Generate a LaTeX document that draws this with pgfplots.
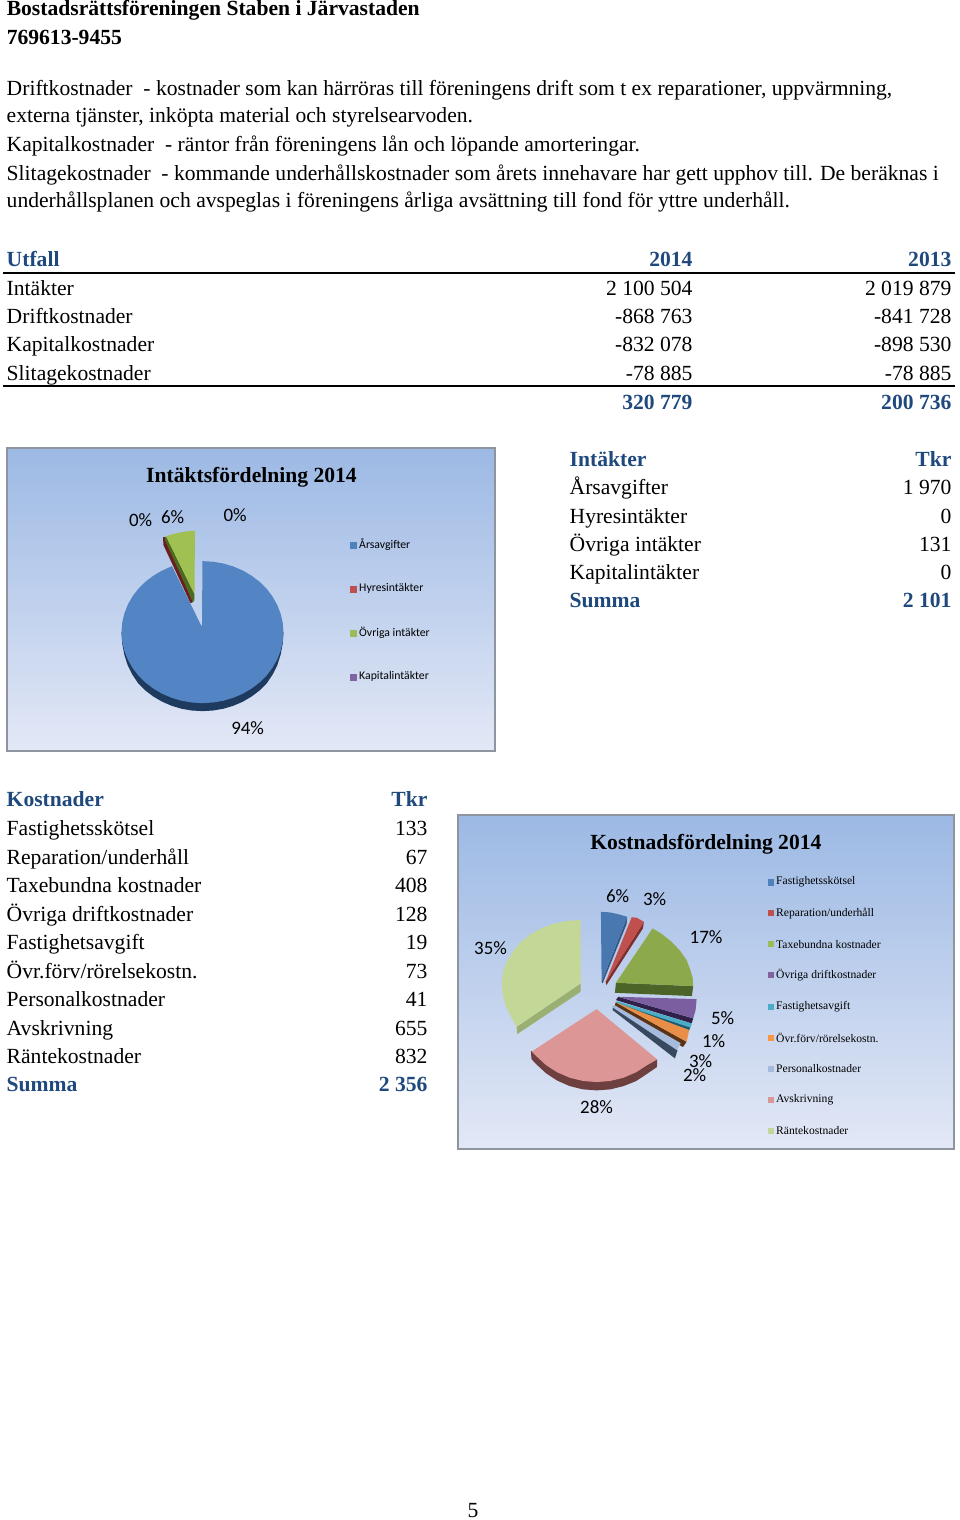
\documentclass[border=0pt]{standalone}
\usepackage{fontspec}
\usepackage{pgfplots}
\pgfplotsset{compat=1.18}
\setmainfont{Liberation Serif}
\newfontfamily\carlito{Carlito}
\definecolor{headblue}{HTML}{1F497D}
\definecolor{framegray}{HTML}{8E959E}
\definecolor{bgtop}{HTML}{9CB9E4}
\definecolor{bgbot}{HTML}{E3E8F6}
\newcommand{\bodyf}{\fontsize{16.2}{19}\selectfont}
\newcommand{\ttlf}{\fontsize{16.2}{19}\selectfont\bfseries}
\newcommand{\pctf}{\fontsize{14.2}{17}\selectfont\carlito}
\newcommand{\tl}[3]{\node[anchor=base west,inner sep=0pt,xshift=-0.4pt,font=\bodyf] at (axis cs:#1,#2) {#3};}
\newcommand{\tr}[3]{\node[anchor=base east,inner sep=0pt,xshift=0.6pt,font=\bodyf] at (axis cs:#1,#2) {#3};}
\newcommand{\hl}[3]{\node[anchor=base west,inner sep=0pt,xshift=-0.4pt,font=\ttlf,text=headblue] at (axis cs:#1,#2) {#3};}
\newcommand{\hr}[3]{\node[anchor=base east,inner sep=0pt,xshift=0.6pt,font=\ttlf,text=headblue] at (axis cs:#1,#2) {#3};}
\newcommand{\pct}[3]{\node[anchor=center,inner sep=0pt,xshift=0.5pt,yshift=-0.5pt,font=\pctf] at (axis cs:#1,#2) {#3};}
\newcommand{\lgA}[3]{\addplot[only marks,mark=square*,mark size=2.25pt,color=#3,mark options={draw=none}] coordinates {(353,#1)};
  \node[anchor=west,inner sep=0pt,font=\fontsize{8.8}{10}\selectfont\carlito] at (axis cs:359,#1) {#2};}
\newcommand{\lgB}[3]{\addplot[only marks,mark=square*,mark size=2.0pt,color=#3,mark options={draw=none}] coordinates {(771,#1)};
  \node[anchor=west,inner sep=0pt,font=\fontsize{8.7}{10}\selectfont] at (axis cs:776,#1) {#2};}
\begin{document}
\begin{tikzpicture}
\begin{axis}[
  width=720pt, height=1140pt, scale only axis, hide axis, clip=false,
  xmin=0, xmax=960, ymin=0, ymax=1520, y dir=reverse,
]
% keep the full page in the bounding box
\path (axis cs:0,0) (axis cs:960,1520);
% page text
\node[anchor=base west,inner sep=0pt,font=\ttlf] at (axis cs:6.5,15) {Bostadsrättsföreningen Staben i Järvastaden};
\node[anchor=base west,inner sep=0pt,font=\ttlf] at (axis cs:6.5,44) {769613-9455};
\tl{7}{95}{Driftkostnader~ - kostnader som kan härröras till föreningens drift som t ex reparationer, uppvärmning,}
\tl{7}{122.5}{externa tjänster, inköpta material och styrelsearvoden.}
\tl{7}{151.5}{Kapitalkostnader~ - räntor från föreningens lån och löpande amorteringar.}
\tl{7}{180}{Slitagekostnader~ - kommande underhållskostnader som årets innehavare har gett upphov till. De beräknas i}
\tl{7}{207.5}{underhållsplanen och avspeglas i föreningens årliga avsättning till fond för yttre underhåll.}
% result table
\hl{7}{266}{Utfall}\hr{692}{266}{2014}\hr{951}{266}{2013}
\tl{7}{295}{Intäkter}\tr{692}{295}{2 100 504}\tr{951}{295}{2 019 879}
\tl{7}{323}{Driftkostnader}\tr{692}{323}{-868 763}\tr{951}{323}{-841 728}
\tl{7}{351}{Kapitalkostnader}\tr{692}{351}{-832 078}\tr{951}{351}{-898 530}
\tl{7}{380}{Slitagekostnader}\tr{692}{380}{-78 885}\tr{951}{380}{-78 885}
\hr{692}{409}{320 779}\hr{951}{409}{200 736}
\addplot[black,line width=1.5pt] coordinates {(3,272.5)(955,272.5)};
\addplot[black,line width=1.5pt] coordinates {(3,386)(955,386)};
% income table
\hl{570}{466}{Intäkter}\hr{951}{466}{Tkr}
\tl{570}{494}{Årsavgifter}\tr{951}{494}{1 970}
\tl{570}{523}{Hyresintäkter}\tr{951}{523}{0}
\tl{570}{551}{Övriga intäkter}\tr{951}{551}{131}
\tl{570}{579}{Kapitalintäkter}\tr{951}{579}{0}
\hl{570}{607.5}{Summa}\hr{951}{607.5}{2 101}
% cost table
\hl{7}{806.5}{Kostnader}\hr{427}{806.5}{Tkr}
\tl{7}{835}{Fastighetsskötsel}\tr{427}{835}{133}
\tl{7}{864}{Reparation/underhåll}\tr{427}{864}{67}
\tl{7}{892}{Taxebundna kostnader}\tr{427}{892}{408}
\tl{7}{921}{Övriga driftkostnader}\tr{427}{921}{128}
\tl{7}{949}{Fastighetsavgift}\tr{427}{949}{19}
\tl{7}{978}{Övr.förv/rörelsekostn.}\tr{427}{978}{73}
\tl{7}{1006}{Personalkostnader}\tr{427}{1006}{41}
\tl{7}{1035}{Avskrivning}\tr{427}{1035}{655}
\tl{7}{1063}{Räntekostnader}\tr{427}{1063}{832}
\hl{7}{1091.5}{Summa}\hr{427}{1091.5}{2 356}
\tl{468}{1517}{5}

% income chart
\addplot[top color=bgtop,bottom color=bgbot,draw=framegray,line width=1.5pt] coordinates {(7.5,448)(495.5,448)(495.5,751)(7.5,751)} -- cycle;
\node[anchor=center,inner sep=0pt,font=\ttlf] at (axis cs:251.5,477.5) {Intäktsfördelning 2014};
% rim of the large slice
\addplot[fill={rgb,255:red,30;green,58;blue,95},draw=none] coordinates {(283.5,632)(282.8,643.3)(280.7,654.4)(277.3,665.2)(272.6,674.5)(266.8,683.2)(259.8,690.2)(251.8,696.3)(243,701.5)(233.5,705.6)(223.5,708.6)(213.1,710.4)(202.5,711)(191.9,710.4)(181.5,708.6)(171.5,705.6)(162,701.5)(153.2,696.3)(145.2,690.2)(138.2,683.2)(132.4,674.5)(127.7,665.2)(124.3,654.4)(122.2,643.3)(121.5,632)};
% Årsavgifter
\addplot[fill={rgb,255:red,83;green,132;blue,195},draw=none] coordinates {(202,627)(202.5,561)(213.1,561.6)(223.5,563.4)(233.5,566.4)(243,570.5)(251.8,575.7)(259.8,581.8)(266.8,588.8)(272.6,596.5)(277.3,604.8)(280.7,613.6)(282.8,622.7)(283.5,632)(282.8,641.3)(280.7,650.4)(277.3,659.2)(272.6,667.5)(266.8,675.2)(259.8,682.2)(251.8,688.3)(243,693.5)(233.5,697.6)(223.5,700.6)(213.1,702.4)(202.5,703)(191.9,702.4)(181.5,700.6)(171.5,697.6)(162,693.5)(153.2,688.3)(145.2,682.2)(138.2,675.2)(132.4,667.5)(127.7,659.2)(124.3,650.4)(122.2,641.3)(121.5,632)(122.2,622.7)(124.3,613.6)(127.7,604.8)(132.4,596.5)(138.2,588.8)(145.2,581.8)(153.2,575.7)(162,570.5)(172,566)};
% Hyresintäkter, Övriga intäkter
\addplot[fill={rgb,255:red,107;green,30;blue,30},draw=none] coordinates {(163,537)(163.5,545)(190.5,603)(193,602)(166,540)(165.5,537)};
\addplot[fill={rgb,255:red,76;green,106;blue,31},draw=none] coordinates {(166,536)(165,540)(193,602)(194.5,600)(194.5,594)};
\addplot[fill={rgb,255:red,160;green,192;blue,82},draw=none] coordinates {(194.5,594)(195,530.5)(187,531.2)(180,532.3)(173,534)(166,536)};
\pct{140}{519}{0\%}\pct{172}{516}{6\%}\pct{234.5}{514}{0\%}\pct{247}{727}{94\%}
\lgA{544.7}{Årsavgifter}{{rgb,255:red,79;green,129;blue,189}}
\lgA{588.7}{Hyresintäkter}{{rgb,255:red,192;green,80;blue,77}}
\lgA{632.7}{Övriga intäkter}{{rgb,255:red,155;green,187;blue,89}}
\lgA{676.7}{Kapitalintäkter}{{rgb,255:red,128;green,100;blue,162}}

% cost chart
\addplot[top color=bgtop,bottom color=bgbot,draw=framegray,line width=1.5pt] coordinates {(458.5,815)(954.5,815)(954.5,1149)(458.5,1149)} -- cycle;
\node[anchor=center,inner sep=0pt,font=\ttlf] at (axis cs:706,844.5) {Kostnadsfördelning 2014};
% Fastighetsskötsel
\addplot[fill={rgb,255:red,52;green,86;blue,127},draw=none] coordinates {(627.3,916.7)(626.7,924)(602.7,983.3)(601.7,981.7)};
\addplot[fill={rgb,255:red,73;green,120;blue,176},draw=none] coordinates {(601.7,981.7)(601,911.7)(610,912.3)(619,914.3)(627.3,916.7)};
% Reparation/underhåll
\addplot[fill={rgb,255:red,127;green,46;blue,44},draw=none] coordinates {(644,921.7)(643,928.3)(606.5,985)(605.7,981.7)};
\addplot[fill={rgb,255:red,192;green,80;blue,77},draw=none] coordinates {(605.7,981.7)(631.7,917.3)(636.7,917.5)(644,921.7)};
% Taxebundna kostnader
\addplot[fill={rgb,255:red,76;green,100;blue,40},draw=none] coordinates {(693.3,986)(692,996)(615,992.7)(616,982.7)};
\addplot[fill={rgb,255:red,140;green,170;blue,75},draw=none] coordinates {(616,982.7)(652.7,928.3)(662,934)(671.5,941.5)(680,950.5)(686.7,960)(690.5,970)(692.8,978)(693.3,986)};
% Övriga driftkostnader
\addplot[fill={rgb,255:red,47;green,33;blue,73},draw=none] coordinates {(693.3,1018.3)(691.7,1023.3)(616,1000)(618.3,996.7)};
\addplot[fill={rgb,255:red,123;green,94;blue,160},draw=none] coordinates {(618.3,996.7)(696.7,999)(695.7,1010)(693.3,1018.3)};
% Fastighetsavgift
\addplot[fill={rgb,255:red,30;green,90;blue,110},draw=none] coordinates {(690.5,1026)(689.5,1030)(616,1005)(616.5,1002)};
\addplot[fill={rgb,255:red,75;green,172;blue,198},draw=none] coordinates {(617,1001)(692,1023.5)(690.5,1027.5)(616.5,1003)};
% Övr.förv/rörelsekostn.
\addplot[fill={rgb,255:red,90;green,50;blue,20},draw=none] coordinates {(686.7,1041.7)(683,1047)(615,1005.5)(615.7,1002.3)};
\addplot[fill={rgb,255:red,232;green,142;blue,70},draw=none] coordinates {(615.7,1002.3)(689.3,1030)(686.7,1041.7)};
% Personalkostnader
\addplot[fill={rgb,255:red,55;green,72;blue,95},draw=none] coordinates {(613,1006)(612.7,1010)(675,1058.3)(677.7,1050)};
\addplot[fill={rgb,255:red,165;green,186;blue,220},draw=none] coordinates {(614.3,1005)(680.7,1043)(677,1050)(613,1007.5)};
% Avskrivning
\addplot[fill={rgb,255:red,110;green,63;blue,63},draw=none] coordinates {(657.3,1059.3)(657,1067)(647.5,1073.5)(636.2,1081)(623.7,1086)(610.4,1089.3)(596.7,1090.3)(583,1089.3)(569.7,1086)(557.2,1080.5)(545.9,1073)(536.2,1064)(531.5,1059)(531,1051)};
\addplot[fill={rgb,255:red,220;green,150;blue,150},draw=none] coordinates {(596.7,1009)(657.3,1059.3)(647.5,1064.9)(636.2,1072.2)(623.7,1077.6)(610.4,1080.9)(596.7,1082)(583,1080.9)(569.7,1077.6)(557.2,1072.2)(545.9,1064.9)(536.2,1055.9)(531.7,1051.5)};
% Räntekostnader
\addplot[fill={rgb,255:red,154;green,175;blue,114},draw=none] coordinates {(516.7,1026.7)(517.3,1034)(580.7,991.7)(580.7,983.3)};
\addplot[fill={rgb,255:red,195;green,215;blue,150},draw=none] coordinates {(580.7,983.3)(580.7,919.8)(567,920.8)(553.7,923.6)(541.2,928.3)(529.9,934.7)(520.2,942.5)(513,951.6)(506.8,961.6)(502.9,972.3)(501.7,983.3)(502.9,995.7)(506.4,1007.6)(512.3,1018.8)(516.7,1026.7)};
\pct{617}{895.5}{6\%}\pct{654}{898}{3\%}\pct{705.5}{936}{17\%}\pct{490}{947}{35\%}
\pct{722}{1017}{5\%}\pct{713}{1040}{1\%}\pct{700}{1060.5}{3\%}\pct{694}{1074}{2\%}\pct{596}{1106}{28\%}
\lgB{882}{Fastighetsskötsel}{{rgb,255:red,79;green,129;blue,189}}
\lgB{913}{Reparation/underhåll}{{rgb,255:red,192;green,80;blue,77}}
\lgB{944}{Taxebundna kostnader}{{rgb,255:red,155;green,187;blue,89}}
\lgB{975}{Övriga driftkostnader}{{rgb,255:red,128;green,100;blue,162}}
\lgB{1006.5}{Fastighetsavgift}{{rgb,255:red,75;green,172;blue,198}}
\lgB{1037.5}{Övr.förv/rörelsekostn.}{{rgb,255:red,247;green,150;blue,70}}
\lgB{1068.5}{Personalkostnader}{{rgb,255:red,165;green,186;blue,220}}
\lgB{1099.5}{Avskrivning}{{rgb,255:red,217;green,150;blue,148}}
\lgB{1130.5}{Räntekostnader}{{rgb,255:red,195;green,214;blue,155}}
\end{axis}
\end{tikzpicture}
\end{document}
